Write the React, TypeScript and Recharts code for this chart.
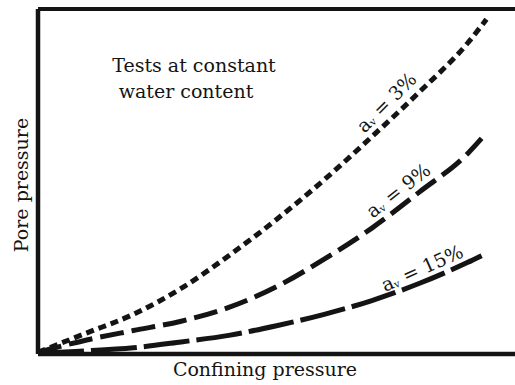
import { LineChart, Line, XAxis, YAxis, ReferenceLine, ReferenceDot } from "recharts";

// pore pressure vs confining pressure, both in relative units (0-100)
const av3Confining = [0, 10, 20, 30, 40, 50, 60, 70, 80, 90, 94];
const av3Pore = [0.5, 6, 11.5, 19, 28.5, 39, 50.5, 63, 76, 90, 97];

const av9Confining = [0, 10, 20, 30, 40, 50, 60, 70, 80, 90, 93];
const av9Pore = [0.5, 4, 6.8, 9.5, 13.5, 19.5, 27.5, 36.5, 47, 58, 62.5];

const av15Confining = [0, 10, 20, 30, 40, 50, 60, 70, 80, 90, 93];
const av15Pore = [0.3, 0.9, 1.8, 3.5, 5.4, 8.2, 11.5, 15.5, 20.5, 26.5, 28.5];

const curveNames = ["3%", "9%", "15%"];

const INK = "#141414";
const FONT = "'DejaVu Serif', serif";

const toPoints = (xs: number[], ys: number[]) => xs.map((x, i) => ({ x, y: ys[i] }));

const curves = [
  { name: curveNames[0], points: toPoints(av3Confining, av3Pore), dash: "8 5", label: { x: 73, y: 73, angle: 45 } },
  { name: curveNames[1], points: toPoints(av9Confining, av9Pore), dash: "24 8", label: { x: 75.5, y: 47.5, angle: 38 } },
  { name: curveNames[2], points: toPoints(av15Confining, av15Pore), dash: "46 7", label: { x: 80.5, y: 25, angle: 24 } },
];

function CurveLabel({ viewBox, name, angle }: any) {
  const x = viewBox.x + (viewBox.width || 0) / 2;
  const y = viewBox.y + (viewBox.height || 0) / 2;
  return (
    <text
      x={x}
      y={y}
      transform={`rotate(${-angle} ${x} ${y})`}
      textAnchor="middle"
      dominantBaseline="central"
      fontFamily={FONT}
      fontSize={19}
      fill={INK}
    >
      a
      <tspan fontSize={10} dy={4}>v</tspan>
      <tspan dy={-4}> = {name}</tspan>
    </text>
  );
}

export default function App() {
  return (
    <div style={{ position: "absolute", left: 0, top: 0, background: "#fff" }}>
      <LineChart width={515} height={385} margin={{ top: 9, right: 0, bottom: 0, left: 0 }}>
        <XAxis
          type="number"
          dataKey="x"
          domain={[0, 100]}
          tick={false}
          tickLine={false}
          axisLine={{ stroke: INK, strokeWidth: 4.5 }}
          height={31}
        />
        <YAxis
          type="number"
          domain={[0, 100]}
          tick={false}
          tickLine={false}
          axisLine={{ stroke: INK, strokeWidth: 4.5 }}
          width={38}
        />
        <ReferenceLine y={100} stroke={INK} strokeWidth={4} />
        {curves.map((c) => (
          <Line
            key={c.name}
            data={c.points}
            dataKey="y"
            type="monotone"
            stroke={INK}
            strokeWidth={5}
            strokeDasharray={c.dash}
            dot={false}
            isAnimationActive={false}
          />
        ))}
        {curves.map((c) => (
          <ReferenceDot
            key={"lbl" + c.name}
            x={c.label.x}
            y={c.label.y}
            r={0}
            fill="none"
            stroke="none"
            label={(p: any) => <CurveLabel {...p} name={c.name} angle={c.label.angle} />}
          />
        ))}
        <text fontFamily={FONT} fontSize={19} fill={INK} textAnchor="middle">
          <tspan x={194} y={72}>Tests at constant</tspan>
          <tspan x={186} y={98}>water content</tspan>
        </text>
        <text x={265} y={376} fontFamily={FONT} fontSize={19} fill={INK} textAnchor="middle">
          Confining pressure
        </text>
        <text
          x={28}
          y={185}
          transform="rotate(-90 28 185)"
          fontFamily={FONT}
          fontSize={19}
          fill={INK}
          textAnchor="middle"
        >
          Pore pressure
        </text>
      </LineChart>
    </div>
  );
}
